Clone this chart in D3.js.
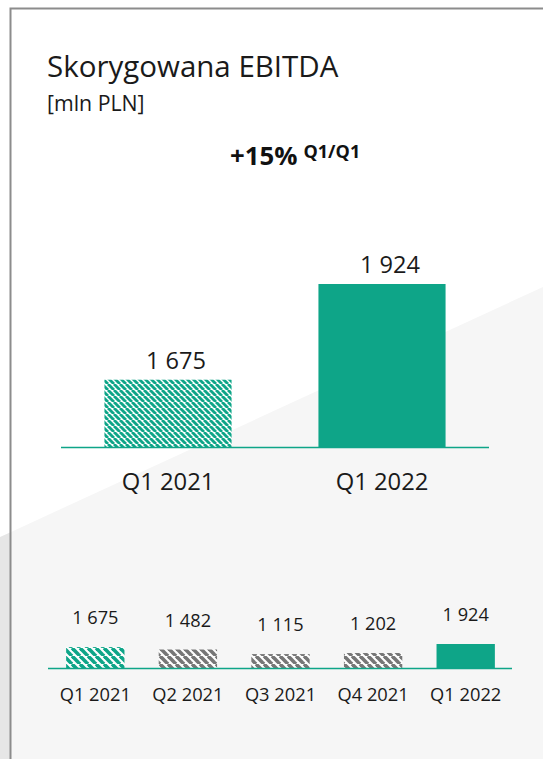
<!DOCTYPE html>
<html>
<head>
<meta charset="utf-8">
<script src="https://cdn.jsdelivr.net/npm/d3@7"></script>
<style>
  html, body { margin: 0; padding: 0; background: #ffffff; }
  svg { display: block; font-family: "Open Sans", "Noto Sans", sans-serif; }
</style>
</head>
<body>
<svg id="chart" width="543" height="759"></svg>
<script>
// Year-on-year comparison (main panel)
const yoyCategories = ["Q1 2021", "Q1 2022"];
const yoyValues = [1675, 1924];
const yoyHatched = [true, false];

// Quarterly history (small panel)
const qCategories = ["Q1 2021", "Q2 2021", "Q3 2021", "Q4 2021", "Q1 2022"];
const qValues = [1675, 1482, 1115, 1202, 1924];
const qStyle = ["tealHatch", "grayHatch", "grayHatch", "grayHatch", "solid"];

const titleText = "Skorygowana EBITDA";
const unitText = "[mln PLN]";
const changeText = "+15%";
const changeSuffix = "Q1/Q1";

const W = 543, H = 759;
const TEAL = "#0ea588";
const svg = d3.select("#chart");

const pl = d3.formatLocale({ decimal: ",", thousands: " ", grouping: [3], currency: ["", " zł"] });
const fmt = pl.format(",d");

// Diagonal stripe patterns
const defs = svg.append("defs");
function hatch(id, size, color, ratio) {
  const p = defs.append("pattern")
    .attr("id", id).attr("patternUnits", "userSpaceOnUse")
    .attr("width", size).attr("height", size);
  p.append("rect").attr("width", size).attr("height", size).attr("fill", "#ffffff");
  const sw = size / Math.SQRT2 * ratio;
  [-size, 0, size].forEach(ox => {
    p.append("line")
      .attr("x1", ox).attr("y1", 0).attr("x2", ox + size).attr("y2", size)
      .attr("stroke", color).attr("stroke-width", sw);
  });
}
hatch("tealHatchBig", 6, TEAL, 0.68);
hatch("tealHatch", 8, TEAL, 0.64);
hatch("grayHatch", 8, "#767676", 0.64);

// Background with diagonal shading
const diag = x => 537 - (250 / 543) * x;
svg.append("rect").attr("width", W).attr("height", H).attr("fill", "#ffffff");
svg.append("polygon")
  .attr("points", [[0, diag(0)], [10, diag(10)], [10, H], [0, H]].join(" "))
  .attr("fill", "#e6e6e6");
svg.append("polygon")
  .attr("points", [[10, diag(10)], [W, diag(W)], [W, H], [10, H]].join(" "))
  .attr("fill", "#f6f6f6");

// Frame
svg.append("path")
  .attr("d", `M10.5,${H} L10.5,8.5 L${W},8.5`)
  .attr("fill", "none").attr("stroke", "#8c8c8c").attr("stroke-width", 2);

// Titles
svg.append("text").attr("x", 47).attr("y", 77)
  .attr("font-size", 29.5).attr("fill", "#1a1a1a").text(titleText);
svg.append("text").attr("x", 47).attr("y", 111)
  .attr("font-size", 21.3).attr("fill", "#1a1a1a").text(unitText);
const ch = svg.append("text").attr("x", 230).attr("y", 165)
  .attr("font-weight", "bold").attr("fill", "#111111");
ch.append("tspan").attr("font-size", 25.8).text(changeText);
ch.append("tspan").attr("font-size", 18).attr("dx", 6).attr("dy", -7).text(changeSuffix);

// Main panel
const x1 = d3.scaleBand().domain(yoyCategories).range([61, 489])
  .paddingInner(0.406).paddingOuter(0.203);
const y1 = d3.scaleLinear().domain([1500, 1924]).range([447, 284]);

svg.append("g").selectAll("rect").data(yoyValues).join("rect")
  .attr("x", (d, i) => x1(yoyCategories[i]))
  .attr("y", d => y1(d))
  .attr("width", x1.bandwidth())
  .attr("height", d => y1.range()[0] - y1(d))
  .attr("fill", (d, i) => yoyHatched[i] ? "url(#tealHatchBig)" : TEAL);

svg.append("line").attr("x1", 61).attr("x2", 489).attr("y1", 447.5).attr("y2", 447.5)
  .attr("stroke", TEAL).attr("stroke-width", 1.5);

svg.append("g").selectAll("text").data(yoyValues).join("text")
  .attr("x", (d, i) => x1(yoyCategories[i]) + x1.bandwidth() / 2 + 8)
  .attr("y", d => y1(d) - 11)
  .attr("text-anchor", "middle").attr("font-size", 23.6).attr("fill", "#1a1a1a")
  .text(d => fmt(d));

const ax1 = svg.append("g").attr("transform", "translate(0,447)")
  .call(d3.axisBottom(x1).tickSize(0).tickPadding(0));
ax1.select(".domain").remove();
ax1.selectAll("text").attr("font-size", 23.8).attr("font-family", "Open Sans")
  .attr("fill", "#1a1a1a").attr("dy", 0).attr("y", 43);

// Quarterly panel
const x2 = d3.scaleBand().domain(qCategories).range([49, 512])
  .paddingInner(0.37).paddingOuter(0.185);
const y2 = d3.scaleLinear().domain([0, 1924]).range([668, 644]);

svg.append("g").selectAll("rect").data(qValues).join("rect")
  .attr("x", (d, i) => x2(qCategories[i]))
  .attr("y", d => y2(d))
  .attr("width", x2.bandwidth())
  .attr("height", d => y2.range()[0] - y2(d))
  .attr("fill", (d, i) => qStyle[i] === "solid" ? TEAL : `url(#${qStyle[i]})`);

svg.append("line").attr("x1", 48).attr("x2", 512).attr("y1", 668.5).attr("y2", 668.5)
  .attr("stroke", TEAL).attr("stroke-width", 1.5);

svg.append("g").selectAll("text").data(qValues).join("text")
  .attr("x", (d, i) => x2(qCategories[i]) + x2.bandwidth() / 2)
  .attr("y", d => y2(d) - 23)
  .attr("text-anchor", "middle").attr("font-size", 18.2).attr("fill", "#1a1a1a")
  .text(d => fmt(d));

const ax2 = svg.append("g").attr("transform", "translate(0,668)")
  .call(d3.axisBottom(x2).tickSize(0).tickPadding(0));
ax2.select(".domain").remove();
ax2.selectAll("text").attr("font-size", 18.3).attr("font-family", "Open Sans")
  .attr("fill", "#1a1a1a").attr("dy", 0).attr("y", 33);
</script>
</body>
</html>
